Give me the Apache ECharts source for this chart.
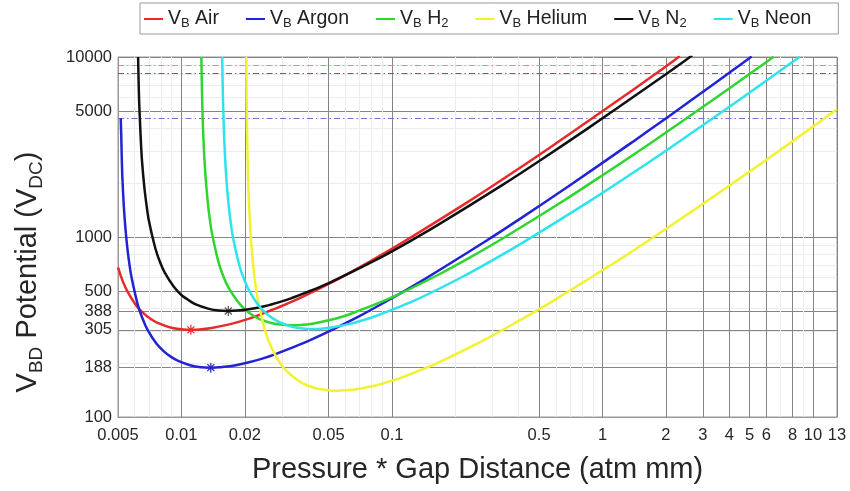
<!DOCTYPE html>
<html>
<head>
<meta charset="utf-8">
</head>
<body style="margin:0">
<div id="container" style="width:850px;height:491px"></div>
<script src="https://cdn.jsdelivr.net/npm/echarts@6/dist/echarts.min.js"></script>
<script>
// Paschen curves (pd in atm mm, breakdown voltage in V)
var airX = [0.005, 0.00527, 0.00555, 0.0061, 0.00666, 0.00722, 0.00777, 0.00888, 0.00999, 0.0111, 0.0122, 0.0139, 0.0167, 0.0194, 0.0222, 0.0333, 0.0555, 0.0777, 0.111, 0.222, 0.333, 0.555, 1.11, 1.67, 2.22, 2.33];
var airV = [678, 567, 497, 417, 374, 348, 332, 314, 307, 305, 306, 312, 326, 342, 360, 436, 584, 725, 924, 1527, 2079, 3105, 5442, 7612, 9685, 10092];

var argonX = [0.00515, 0.00518, 0.00521, 0.00524, 0.00531, 0.00538, 0.00552, 0.00566, 0.0058, 0.00621, 0.00656, 0.0069, 0.00759, 0.00828, 0.00897, 0.00966, 0.011, 0.0124, 0.0138, 0.0152, 0.0173, 0.0207, 0.0242, 0.0276, 0.0414, 0.069, 0.0966, 0.138, 0.276, 0.414, 0.69, 1.38, 2.07, 2.76, 4.14, 5.11];
var argonV = [4570, 3677, 2750, 2203, 1591, 1256, 898, 711, 596, 420, 349, 306, 257, 231, 215, 205, 194, 189, 188, 189, 192, 201, 211, 222, 269, 360, 447, 569, 941, 1281, 1914, 3354, 4692, 5970, 8413, 10062];

var h2X = [0.01244, 0.01253, 0.01261, 0.01269, 0.01286, 0.01303, 0.01336, 0.01369, 0.01403, 0.01503, 0.01587, 0.0167, 0.0184, 0.02, 0.0217, 0.0234, 0.0267, 0.0301, 0.0334, 0.0367, 0.0418, 0.0501, 0.0585, 0.0668, 0.1, 0.167, 0.234, 0.334, 0.668, 1, 1.67, 3.34, 5.01, 6.51];
var h2V = [10000, 6318, 4725, 3786, 2734, 2157, 1543, 1222, 1024, 721, 600, 526, 442, 396, 369, 351, 333, 325, 323, 324, 330, 345, 362, 382, 462, 619, 768, 978, 1617, 2202, 3288, 5763, 8061, 10041];

var heliumX = [0.02034, 0.02038, 0.02046, 0.02063, 0.02076, 0.0209, 0.02118, 0.02145, 0.022, 0.02255, 0.0231, 0.02475, 0.02613, 0.0275, 0.03025, 0.033, 0.03575, 0.0385, 0.044, 0.0495, 0.055, 0.0605, 0.0688, 0.0825, 0.0963, 0.11, 0.165, 0.275, 0.385, 0.55, 1.1, 1.65, 2.75, 5.5, 8.25, 11, 13];
var heliumV = [10000, 7306, 4675, 2738, 2048, 1641, 1185, 935, 669, 530, 444, 313, 260, 228, 191, 172, 160, 152, 144, 141, 140, 141, 143, 149, 157, 165, 200, 268, 333, 424, 701, 954, 1425, 2498, 3494, 4446, 5119];

var n2X = [0.00623, 0.00626, 0.0063, 0.00635, 0.00643, 0.00651, 0.00668, 0.00685, 0.00701, 0.00752, 0.00793, 0.00835, 0.00919, 0.01, 0.0109, 0.0117, 0.0134, 0.015, 0.0167, 0.0184, 0.0209, 0.0251, 0.0292, 0.0334, 0.0501, 0.0835, 0.117, 0.167, 0.334, 0.501, 0.835, 1.67, 2.51, 2.67];
var n2V = [10000, 7589, 5676, 4547, 3284, 2591, 1854, 1467, 1230, 866, 721, 632, 531, 476, 443, 422, 400, 390, 388, 390, 397, 414, 435, 458, 555, 743, 922, 1175, 1942, 2645, 3949, 6922, 9683, 10218];

var neonX = [0.01563, 0.01575, 0.01586, 0.01596, 0.01617, 0.01638, 0.0168, 0.01722, 0.01764, 0.0189, 0.01995, 0.021, 0.0231, 0.0252, 0.0273, 0.0294, 0.0336, 0.0378, 0.042, 0.0462, 0.0525, 0.063, 0.0735, 0.084, 0.126, 0.21, 0.294, 0.42, 0.84, 1.26, 2.1, 4.2, 6.3, 8.65];
var neonV = [10000, 6024, 4506, 3610, 2607, 2057, 1472, 1165, 976, 688, 573, 502, 421, 378, 352, 335, 317, 310, 308, 309, 315, 329, 346, 364, 440, 590, 732, 933, 1542, 2099, 3135, 5495, 7686, 10027];

// minimum points marked with an asterisk
var minAir = [0.0111, 305];
var minArgon = [0.0138, 188];
var minN2 = [0.0167, 388];

// dash-dot reference levels
var limitAir = 9000;
var limitN2 = 8120;
var limitArgon = 4575;

var xMajor = [0.005, 0.01, 0.02, 0.05, 0.1, 0.5, 1, 2, 3, 4, 5, 6, 8, 10, 13];
var xMinor = [0.006, 0.007, 0.008, 0.009, 0.03, 0.04, 0.06, 0.07, 0.08, 0.09, 0.2, 0.3, 0.4, 0.6, 0.7, 0.8, 0.9, 7, 9];
var yMajor = [100, 188, 305, 388, 500, 1000, 5000, 10000];
var yMinor = [200, 300, 400, 600, 700, 800, 900, 2000, 3000, 4000, 6000, 7000, 8000, 9000];

var names = ['Air', 'Argon', 'H2', 'Helium', 'N2', 'Neon'];
var colors = ['#e82a2a', '#2323d6', '#2ed62e', '#f2f230', '#111111', '#2fe3ee'];

function pairs(xs, ys) {
  return xs.map(function (x, i) { return [x, ys[i]]; });
}

var font = 'Liberation Sans, Arial, sans-serif';
var asterisk = 'path://M5,0L5,10M0,5L10,5M1.5,1.5L8.5,8.5M8.5,1.5L1.5,8.5';

function mkMin(pt, color) {
  return {
    symbol: asterisk,
    symbolSize: 10,
    silent: true,
    label: { show: false },
    itemStyle: { color: 'none', borderColor: color, borderWidth: 1.2 },
    data: [{ coord: pt }]
  };
}
function mkLimit(v, color) {
  return {
    symbol: 'none',
    silent: true,
    label: { show: false },
    lineStyle: { color: color, width: 1, type: [6, 3, 1.5, 3] },
    data: [{ yAxis: v }]
  };
}

var legendRich = {
  v: { fontSize: 19.5, fontFamily: font, color: '#222', lineHeight: 22, verticalAlign: 'middle' },
  s: { fontSize: 13, fontFamily: font, color: '#222', lineHeight: 22, verticalAlign: 'bottom', padding: [10, 0, 0, 0] }
};
var legendText = {
  Air: '{v|V}{s|B}{v| Air}',
  Argon: '{v|V}{s|B}{v| Argon}',
  H2: '{v|V}{s|B}{v| H}{s|2}',
  Helium: '{v|V}{s|B}{v| Helium}',
  N2: '{v|V}{s|B}{v| N}{s|2}',
  Neon: '{v|V}{s|B}{v| Neon}'
};

var dataX = [airX, argonX, h2X, heliumX, n2X, neonX];
var dataV = [airV, argonV, h2V, heliumV, n2V, neonV];

var series = names.map(function (n, i) {
  var s = {
    name: n,
    type: 'line',
    data: pairs(dataX[i], dataV[i]),
    smooth: 0.3,
    symbol: 'none',
    clip: true,
    lineStyle: { width: 2.5, color: colors[i] },
    itemStyle: { color: colors[i] },
    z: 5
  };
  if (n === 'Air') { s.markPoint = mkMin(minAir, colors[i]); s.markLine = mkLimit(limitAir, '#e58a8a'); }
  if (n === 'Argon') { s.markPoint = mkMin(minArgon, colors[i]); s.markLine = mkLimit(limitArgon, '#7070d0'); }
  if (n === 'N2') { s.markPoint = mkMin(minN2, '#555'); s.markLine = mkLimit(limitN2, '#666'); }
  return s;
});

var chart = echarts.init(document.getElementById('container'), null, { renderer: 'canvas' });

var option = {
  animation: false,
  backgroundColor: '#fff',
  legend: {
    data: names,
    left: 140,
    top: 3,
    itemGap: 27,
    itemWidth: 19,
    itemHeight: 2,
    icon: 'rect',
    borderColor: '#9a9a9a',
    borderWidth: 1,
    padding: [4, 27, 4, 4],
    formatter: function (n) { return legendText[n]; },
    textStyle: { rich: legendRich }
  },
  grid: {
    left: 118, right: 13, top: 57, bottom: 74,
    show: true, borderColor: '#999', borderWidth: 1
  },
  xAxis: [{
    type: 'log',
    logBase: 10,
    min: 0.005,
    max: 13,
    name: 'Pressure * Gap Distance (atm mm)',
    nameLocation: 'middle',
    nameGap: 38,
    nameTextStyle: { fontSize: 29, fontFamily: font, color: '#262626' },
    axisLine: { show: true, lineStyle: { color: '#999' } },
    axisTick: { show: false, customValues: xMajor },
    axisLabel: {
      customValues: xMajor,
      showMinLabel: true, showMaxLabel: true,
      fontSize: 16.5, fontFamily: font, color: '#262626', margin: 10,
      formatter: function (v) { return String(+v.toPrecision(3)); }
    },
    splitLine: { show: true, lineStyle: { color: '#858585', width: 1 } }
  }, {
    type: 'log',
    logBase: 10,
    min: 0.005,
    max: 13,
    position: 'top',
    axisLine: { show: false },
    axisTick: { show: false, customValues: xMinor },
    axisLabel: { show: false, customValues: xMinor },
    splitLine: { show: true, lineStyle: { color: '#ececec', width: 1 } }
  }],
  yAxis: [{
    type: 'log',
    logBase: 10,
    min: 100,
    max: 10000,
    name: '{a|V}{s|BD}{a| Potential (V}{s|DC}{a|)}',
    nameLocation: 'middle',
    nameGap: 72,
    nameRotate: 90,
    nameTextStyle: {
      padding: [0, 70, 0, 0],
      rich: {
        a: { fontSize: 29, fontFamily: font, color: '#262626', lineHeight: 36, verticalAlign: 'middle' },
        s: { fontSize: 19, fontFamily: font, color: '#262626', lineHeight: 36, verticalAlign: 'bottom', padding: [16, 0, 0, 0] }
      }
    },
    axisLine: { show: true, lineStyle: { color: '#999' } },
    axisTick: { show: false, customValues: yMajor },
    axisLabel: {
      customValues: yMajor,
      showMinLabel: true, showMaxLabel: true,
      fontSize: 16.5, fontFamily: font, color: '#262626', margin: 6,
      formatter: function (v) { return String(Math.round(v)); }
    },
    splitLine: { show: true, lineStyle: { color: '#858585', width: 1 } }
  }, {
    type: 'log',
    logBase: 10,
    min: 100,
    max: 10000,
    position: 'right',
    axisLine: { show: false },
    axisTick: { show: false, customValues: yMinor },
    axisLabel: { show: false, customValues: yMinor },
    splitLine: { show: true, lineStyle: { color: '#ececec', width: 1 } }
  }],
  series: series
};

chart.setOption(option);
window.addEventListener('resize', chart.resize);
</script>
</body>
</html>
